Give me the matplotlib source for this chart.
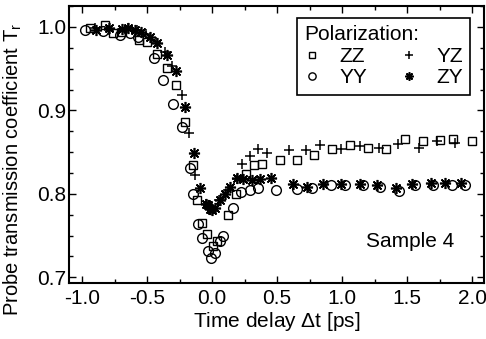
import matplotlib
matplotlib.use('Agg')
import matplotlib.pyplot as plt
from matplotlib.ticker import MultipleLocator

plt.rcParams['font.family'] = ['Liberation Sans', 'DejaVu Sans']
plt.rcParams['mathtext.fontset'] = 'custom'
plt.rcParams['mathtext.rm'] = 'Liberation Sans'

# ZZ polarization (squares)
t_zz = [-0.94, -0.82, -0.76, -0.69, -0.56, -0.50, -0.42, -0.35, -0.28, -0.21,
        -0.15, -0.12, -0.08, -0.04, 0.01, 0.04, 0.12, 0.18, 0.26, 0.32,
        0.38, 0.52, 0.65, 0.78, 0.92, 1.06, 1.20, 1.34, 1.48, 1.62,
        1.75, 1.85, 2.00]
T_zz = [0.999, 1.002, 0.993, 0.994, 0.984, 0.982, 0.967, 0.951, 0.930, 0.886,
        0.834, 0.792, 0.765, 0.752, 0.737, 0.743, 0.775, 0.800, 0.824, 0.835,
        0.836, 0.840, 0.840, 0.846, 0.854, 0.858, 0.855, 0.854, 0.866, 0.863,
        0.865, 0.866, 0.863]

# YY polarization (circles)
t_yy = [-0.98, -0.84, -0.71, -0.63, -0.57, -0.45, -0.38, -0.30, -0.23, -0.17,
        -0.15, -0.11, -0.08, -0.03, -0.01, 0.02, 0.06, 0.08, 0.16, 0.22,
        0.29, 0.35, 0.49, 0.65, 0.77, 0.91, 1.02, 1.16, 1.29, 1.44,
        1.56, 1.70, 1.84, 1.94]
T_yy = [0.996, 0.995, 0.990, 0.993, 0.988, 0.963, 0.936, 0.908, 0.880, 0.831,
        0.800, 0.764, 0.747, 0.731, 0.723, 0.729, 0.743, 0.749, 0.783, 0.802,
        0.805, 0.807, 0.805, 0.806, 0.807, 0.810, 0.810, 0.810, 0.808, 0.803,
        0.810, 0.811, 0.811, 0.811]

# YZ polarization (plus)
t_yz = [-0.90, -0.79, -0.65, -0.58, -0.51, -0.43, -0.36, -0.31, -0.23, -0.18,
        -0.13, -0.05, 0.00, 0.05, 0.12, 0.19, 0.23, 0.29, 0.35, 0.42,
        0.59, 0.72, 0.83, 0.99, 1.14, 1.28, 1.43, 1.59, 1.73, 1.87]
T_yz = [0.999, 0.996, 0.999, 0.996, 0.992, 0.982, 0.970, 0.953, 0.919, 0.873,
        0.822, 0.788, 0.783, 0.792, 0.804, 0.818, 0.836, 0.845, 0.854, 0.849,
        0.852, 0.852, 0.858, 0.854, 0.857, 0.855, 0.860, 0.855, 0.863, 0.861]

# ZY polarization (asterisk)
t_zy = [-0.89, -0.79, -0.69, -0.65, -0.59, -0.55, -0.48, -0.42, -0.35, -0.28,
        -0.21, -0.14, -0.09, -0.05, -0.03, -0.02, 0.00, 0.02, 0.06, 0.10,
        0.14, 0.19, 0.24, 0.31, 0.37, 0.45, 0.62, 0.73, 0.85, 0.99,
        1.14, 1.27, 1.41, 1.54, 1.68, 1.79, 1.91]
T_zy = [0.996, 0.999, 0.998, 0.999, 0.996, 0.994, 0.988, 0.981, 0.966, 0.947,
        0.904, 0.849, 0.807, 0.788, 0.786, 0.782, 0.781, 0.783, 0.792, 0.800,
        0.808, 0.819, 0.818, 0.816, 0.818, 0.819, 0.812, 0.808, 0.812, 0.812,
        0.812, 0.810, 0.807, 0.812, 0.813, 0.813, 0.813]

fs = 15

fig = plt.figure(figsize=(4.86, 3.39), dpi=100)
ax = fig.add_axes([0.142, 0.165, 0.854, 0.817])

ms = 6
ax.plot(t_zz, T_zz, 's', ms=ms, mfc='none', mec='black', mew=1.0, label='ZZ')
ax.plot(t_yy, T_yy, 'o', ms=ms + 1, mfc='none', mec='black', mew=1.0, label='YY')
ax.plot(t_yz, T_yz, '+', ms=ms + 1.5, mec='black', mew=1.1, label='YZ')
ax.plot(t_zy, T_zy, marker=(8, 2, 0), ls='none', ms=ms + 2, mec='black', mew=1.2, label='ZY')

ax.set_xlim(-1.1, 2.09)
ax.set_ylim(0.693, 1.025)

ax.xaxis.set_major_locator(MultipleLocator(0.5))
ax.xaxis.set_minor_locator(MultipleLocator(0.25))
ax.yaxis.set_major_locator(MultipleLocator(0.1))
ax.yaxis.set_minor_locator(MultipleLocator(0.025))
ax.xaxis.set_major_formatter(plt.FuncFormatter(lambda v, _: f'{v:.1f}'))
ax.yaxis.set_major_formatter(plt.FuncFormatter(lambda v, _: f'{v:.1f}'))

ax.tick_params(which='both', direction='in', top=True, right=True, width=1.0, labelsize=fs)
ax.tick_params(which='major', length=5)
ax.tick_params(which='minor', length=3)
ax.tick_params(axis='x', pad=4)
ax.tick_params(axis='y', pad=2)
for s in ax.spines.values():
    s.set_linewidth(1.5)

ax.set_xlabel(r'Time delay $\mathregular{\Delta}$t [ps]', fontsize=fs, labelpad=2)
ax.set_ylabel(r'Probe transmission coefficient T$_\mathregular{r}$', fontsize=14.5)
ax.yaxis.set_label_coords(-0.108, 0.41)

ax.text(1.52, 0.743, 'Sample 4', fontsize=fs, ha='center', va='center')

leg = ax.legend(ncol=2, loc='upper right', bbox_to_anchor=(0.966, 0.957),
                title='Polarization:', fontsize=fs, title_fontsize=fs,
                frameon=True, fancybox=False, framealpha=1, edgecolor='black',
                markerscale=0.75, handlelength=0.8, handletextpad=0.9,
                columnspacing=1.6, borderpad=0.35, borderaxespad=0,
                labelspacing=0.12)
leg._legend_box.align = 'left'
leg.get_frame().set_linewidth(1.2)

fig.savefig('out.png', dpi=100)
